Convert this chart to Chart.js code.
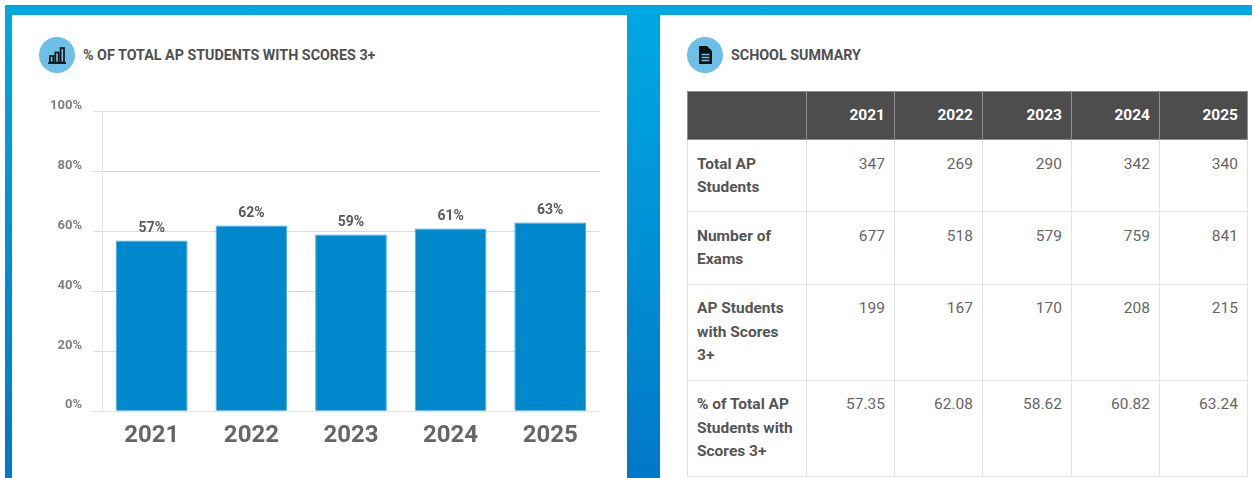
<!DOCTYPE html>
<html>
<head>
<meta charset="utf-8">
<script src="https://cdn.jsdelivr.net/npm/chart.js@4"></script>
<style>
	html, body { margin: 0; padding: 0; background: #fff; }
	body { width: 1252px; height: 478px; overflow: hidden; position: relative; font-family: Roboto, sans-serif; filter: blur(0.35px); }
	#bg { position: absolute; left: 5px; top: 5px; width: 1247px; height: 473px; background: linear-gradient(#00a9e2, #0078c8); }
	.panel { position: absolute; top: 15px; height: 463px; background: #fff; }
	#left { left: 12px; width: 615px; }
	#right { left: 660px; width: 592px; }
	.dot { position: absolute; top: 37px; width: 36px; height: 36px; border-radius: 50%; background: #6cbfe6; }
	.dot svg { position: absolute; left: 8px; top: 8px; width: 20px; height: 20px; }
	.title { position: absolute; top: 46px; font-size: 14.3px; line-height: 18px; font-weight: 700; color: #505050; white-space: nowrap; }
	#chartBox { position: absolute; left: 12px; top: 93px; width: 588px; height: 359px; }
	table { position: absolute; left: 687px; top: 91px; width: 560px; border-collapse: collapse; table-layout: fixed; font-size: 15.5px; line-height: 23.5px; color: #666; }
	th, td { border: 1px solid #e2e2e2; padding: 0 9px; text-align: right; vertical-align: top; box-sizing: border-box; }
	td { padding-top: 12px; }
	tr.low td { padding-top: 13px; line-height: 23px; }
	th { background: #4d4d4d; color: #fff; height: 48px; border-color: #8f8f8f; font-weight: 700; vertical-align: middle; }
	td.name { text-align: left; font-weight: 700; color: #555; }
</style>
</head>
<body>
<div id="bg"></div>
<div class="panel" id="left"></div>
<div class="panel" id="right"></div>

<div class="dot" style="left:39px">
	<svg viewBox="0 0 20 20" fill="none" stroke="#111" stroke-width="1.7">
		<path d="M1 18h18"/><rect x="3" y="11" width="3.4" height="6.5"/><rect x="8.3" y="7.5" width="3.4" height="10"/><rect x="13.6" y="3" width="3.4" height="14.5"/>
	</svg>
</div>
<div class="title" style="left:83px">% OF TOTAL AP STUDENTS WITH SCORES 3+</div>

<div class="dot" style="left:687px">
	<svg viewBox="0 0 20 20">
		<path d="M4 1h8l5 5v13H4z" fill="#111"/>
		<path d="M6.5 9.5h8M6.5 12.5h8M6.5 15.5h8" stroke="#6cbfe6" stroke-width="1.3"/>
	</svg>
</div>
<div class="title" style="left:731px">SCHOOL SUMMARY</div>

<div id="chartBox"><canvas id="myChart"></canvas></div>
<table id="summary"></table>

<script>
const years = ['2021', '2022', '2023', '2024', '2025']
const percentScores = [57, 62, 59, 61, 63]
const yTicks = [0, 20, 40, 60, 80, 100]

const rowNames = ['Total AP Students', 'Number of Exams', 'AP Students with Scores 3+', '% of Total AP Students with Scores 3+']
const totalStudents = ['347', '269', '290', '342', '340']
const numberOfExams = ['677', '518', '579', '759', '841']
const studentsWithScores = ['199', '167', '170', '208', '215']
const percentOfTotal = ['57.35', '62.08', '58.62', '60.82', '63.24']

const columnWidths = [119, 88, 88, 89, 88, 88]
const rowHeights = [72, 73, 96, 96]

// summary table
const rows = [totalStudents, numberOfExams, studentsWithScores, percentOfTotal]
let html = '<colgroup>' + columnWidths.map(w => '<col style="width:' + w + 'px">').join('') + '</colgroup>'
html += '<tr><th></th>' + years.map(y => '<th>' + y + '</th>').join('') + '</tr>'
rows.forEach((row, i) => {
	html += '<tr class="' + (i < 2 ? 'low' : '') + '" style="height:' + rowHeights[i] + 'px"><td class="name">' + rowNames[i] + '</td>'
	html += row.map(v => '<td>' + v + '</td>').join('') + '</tr>'
})
document.getElementById('summary').innerHTML = html

// labels above the bars
const barLabels = {
	id: 'barLabels',
	afterDatasetsDraw(chart) {
		const ctx = chart.ctx
		ctx.save()
		ctx.font = '700 14px Roboto'
		ctx.fillStyle = '#5a5a5a'
		ctx.textAlign = 'center'
		ctx.textBaseline = 'bottom'
		chart.getDatasetMeta(0).data.forEach((bar, i) => {
			ctx.fillText(percentScores[i] + '%', bar.x, bar.y - 5)
		})
		ctx.restore()
	},
}

// bar chart
const ctx = document.getElementById('myChart').getContext('2d')
new Chart(ctx, {
	type: 'bar',
	data: {
		labels: years,
		datasets: [
			{
				label: '% of Total AP Students with Scores 3+',
				data: percentScores,
				backgroundColor: '#0088cc',
				borderColor: '#45aee0',
				borderWidth: 1,
				categoryPercentage: 0.72,
				barPercentage: 1,
			},
		],
	},
	plugins: [barLabels],
	options: {
		responsive: true,
		maintainAspectRatio: false,
		animation: false,
		layout: { padding: { top: 8 } },
		plugins: {
			legend: { display: false },
			tooltip: { enabled: false },
		},
		scales: {
			x: {
				grid: { display: false },
				border: { color: '#e4e4e4' },
				ticks: { color: '#666', font: { family: 'Roboto', size: 24, weight: '700' }, padding: 2 },
			},
			y: {
				min: 0,
				max: 100,
				afterFit(scale) { scale.width = 90 },
				afterBuildTicks(scale) { scale.ticks = yTicks.map(v => ({ value: v })) },
				grid: { color: '#dcdcdc', tickLength: 9, tickColor: '#dcdcdc' },
				border: { color: '#e8e8e8' },
				ticks: {
					color: '#808080',
					font: { family: 'Roboto', size: 13, weight: '700' },
					padding: 11,
					labelOffset: -6,
					callback: v => v + '%',
				},
			},
		},
	},
})
</script>
</body>
</html>
